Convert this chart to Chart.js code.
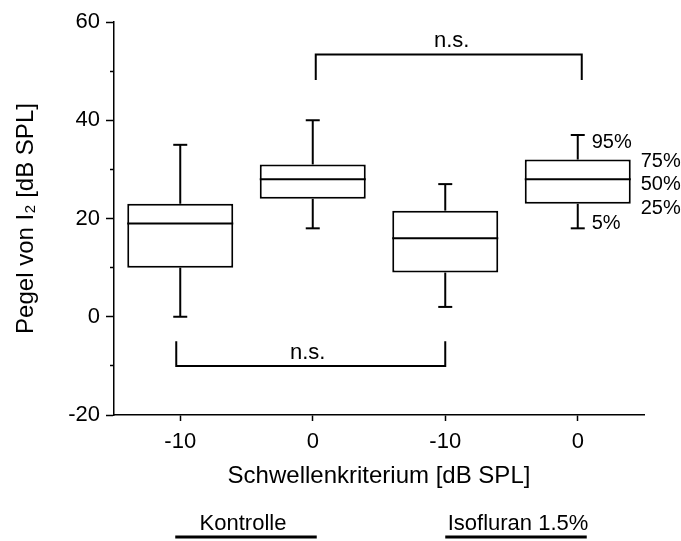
<!DOCTYPE html>
<html lang="de">
<head>
    <meta charset="UTF-8">
    <title>Pegel von I2 | Schwellenkriterium</title>
    <script src="https://cdn.jsdelivr.net/npm/chart.js"></script>
    <style>
        body { margin: 0; background: #fff; }
        #janela { width: 681px; height: 541px; }
    </style>
</head>
<body>
    <div id="janela"><canvas id="grafico" width="681" height="541"></canvas></div>

<script>
    // Kategorien (Schwellenkriterium) und Gruppen
    const kategorien = ['-10', '0', '-10', '0'];
    const gruppen = ['Kontrolle', 'Isofluran 1.5%'];
    const gruppeVon = [0, 2];
    const gruppeBis = [1, 3];

    // Perzentile je Box
    const p5 = [0, 18, 2, 18];
    const p25 = [10, 24, 9, 23];
    const p50 = [19, 28, 16, 28];
    const p75 = [23, 31, 21.6, 32];
    const p95 = [35, 40, 27, 37];

    // y-Achse
    const yMin = -20;
    const yMax = 60;
    const yStep = 10;

    // Vergleiche (n.s.)
    const vergleichVon = [1, 0];
    const vergleichBis = [3, 2];
    const klammerHoehe = [53.4, -10];
    const klammerEnde = [48.2, -5];
    const vergleichText = ['n.s.', 'n.s.'];

    // Legende der Perzentile an der letzten Box
    const perzentilText = ['95%', '75%', '50%', '25%', '5%'];

    const schrift = "'Liberation Sans', Arial, sans-serif";

    function linie(ctx, x1, y1, x2, y2) {
        ctx.beginPath();
        ctx.moveTo(x1, y1);
        ctx.lineTo(x2, y2);
        ctx.stroke();
    }

    const boxExtras = {
        id: 'boxExtras',
        afterDatasetsDraw(chart) {
            const { ctx, scales: { x, y }, chartArea } = chart;
            const bars = chart.getDatasetMeta(0).data;
            ctx.save();
            ctx.strokeStyle = '#000';
            ctx.fillStyle = '#000';
            ctx.lineWidth = 2;

            // Median, Whisker
            bars.forEach((bar, i) => {
                const half = bar.width / 2;
                const ym = y.getPixelForValue(p50[i]);
                linie(ctx, bar.x - half, ym, bar.x + half, ym);
                const yo = y.getPixelForValue(p95[i]);
                const yu = y.getPixelForValue(p5[i]);
                linie(ctx, bar.x, y.getPixelForValue(p75[i]), bar.x, yo);
                linie(ctx, bar.x, y.getPixelForValue(p25[i]), bar.x, yu);
                linie(ctx, bar.x - 7, yo, bar.x + 7, yo);
                linie(ctx, bar.x - 7, yu, bar.x + 7, yu);
            });

            // Klammern n.s.
            ctx.font = '22px ' + schrift;
            ctx.textAlign = 'center';
            ctx.textBaseline = 'alphabetic';
            vergleichVon.forEach((von, k) => {
                const xa = x.getPixelForValue(von) + (k === 0 ? 3 : -4);
                const xb = x.getPixelForValue(vergleichBis[k]) + (k === 0 ? 4 : 0);
                const yh = y.getPixelForValue(klammerHoehe[k]);
                const ye = y.getPixelForValue(klammerEnde[k]);
                ctx.beginPath();
                ctx.moveTo(xa, ye);
                ctx.lineTo(xa, yh);
                ctx.lineTo(xb, yh);
                ctx.lineTo(xb, ye);
                ctx.stroke();
                ctx.fillText(vergleichText[k], (xa + xb) / 2 + (k === 0 ? 3 : -3), yh - 7);
            });

            // Perzentil-Beschriftung an der letzten Box
            const last = bars[bars.length - 1];
            const i = bars.length - 1;
            ctx.font = '20px ' + schrift;
            ctx.textAlign = 'left';
            ctx.textBaseline = 'middle';
            const xIn = last.x + 14;
            const xOut = last.x + last.width / 2 + 10;
            ctx.fillText(perzentilText[0], xIn, y.getPixelForValue(p95[i]) + 7);
            ctx.fillText(perzentilText[1], xOut, y.getPixelForValue(p75[i]) + 2);
            ctx.fillText(perzentilText[2], xOut, y.getPixelForValue(p50[i]) + 5);
            ctx.fillText(perzentilText[3], xOut, y.getPixelForValue(p25[i]) + 5);
            ctx.fillText(perzentilText[4], xIn, y.getPixelForValue(p5[i]) - 5);

            // Gruppen unter der Achse
            ctx.font = '22px ' + schrift;
            ctx.textAlign = 'center';
            ctx.textBaseline = 'alphabetic';
            ctx.lineWidth = 3;
            gruppen.forEach((g, k) => {
                const xa = x.getPixelForValue(gruppeVon[k]) - (k === 0 ? 5 : 0);
                const xb = x.getPixelForValue(gruppeBis[k]) + (k === 0 ? 4 : 9);
                const yl = chartArea.bottom + 122;
                linie(ctx, xa, yl, xb, yl);
                ctx.fillText(g, (xa + xb) / 2 + (k === 0 ? -3 : 2), chartArea.bottom + 115);
            });
            ctx.restore();
        }
    };

    const ctx1 = document.getElementById('grafico');

    new Chart(ctx1, {
        type: 'bar',
        data: {
            labels: kategorien,
            datasets: [{
                label: 'Box',
                data: p25.map((v, i) => [v, p75[i]]),
                backgroundColor: '#fff',
                borderColor: '#000',
                borderWidth: 2,
                borderSkipped: false,
                barPercentage: 0.8,
                categoryPercentage: 1
            }]
        },
        options: {
            responsive: false,
            animation: false,
            layout: { padding: { top: 22, right: 37, left: 0, bottom: 0 } },
            plugins: {
                legend: { display: false },
                tooltip: { enabled: false }
            },
            scales: {
                x: {
                    offset: true,
                    grid: { offset: false, drawOnChartArea: false, tickLength: 6, tickColor: '#000', tickWidth: 1.5 },
                    border: { color: '#000', width: 1.5 },
                    ticks: { color: '#000', font: { size: 22, family: schrift }, padding: 8 },
                    title: {
                        display: true,
                        text: 'Schwellenkriterium [dB SPL]',
                        color: '#000',
                        font: { size: 24, family: schrift },
                        padding: { top: 0, bottom: 50 }
                    },
                    afterFit: (scale) => { scale.height = 126; }
                },
                y: {
                    min: yMin,
                    max: yMax,
                    grid: {
                        drawOnChartArea: false,
                        tickLength: 8,
                        tickColor: '#000',
                        tickWidth: 1.5,
                        tickBorderDash: (c) => (c.tick && c.tick.value % 20 !== 0) ? [4, 4] : [],
                        tickBorderDashOffset: 4
                    },
                    border: { color: '#000', width: 1.5 },
                    ticks: {
                        stepSize: yStep,
                        autoSkip: false,
                        color: '#000',
                        font: { size: 22, family: schrift },
                        padding: 6,
                        callback: (v) => v % 20 === 0 ? v : ''
                    },
                    title: {
                        display: true,
                        text: 'Pegel von I₂ [dB SPL]',
                        color: '#000',
                        font: { size: 24, family: schrift },
                        padding: { top: 12, bottom: 0 }
                    },
                    afterFit: (scale) => { scale.width = 114; }
                }
            }
        },
        plugins: [boxExtras]
    });
</script>
</body>
</html>
